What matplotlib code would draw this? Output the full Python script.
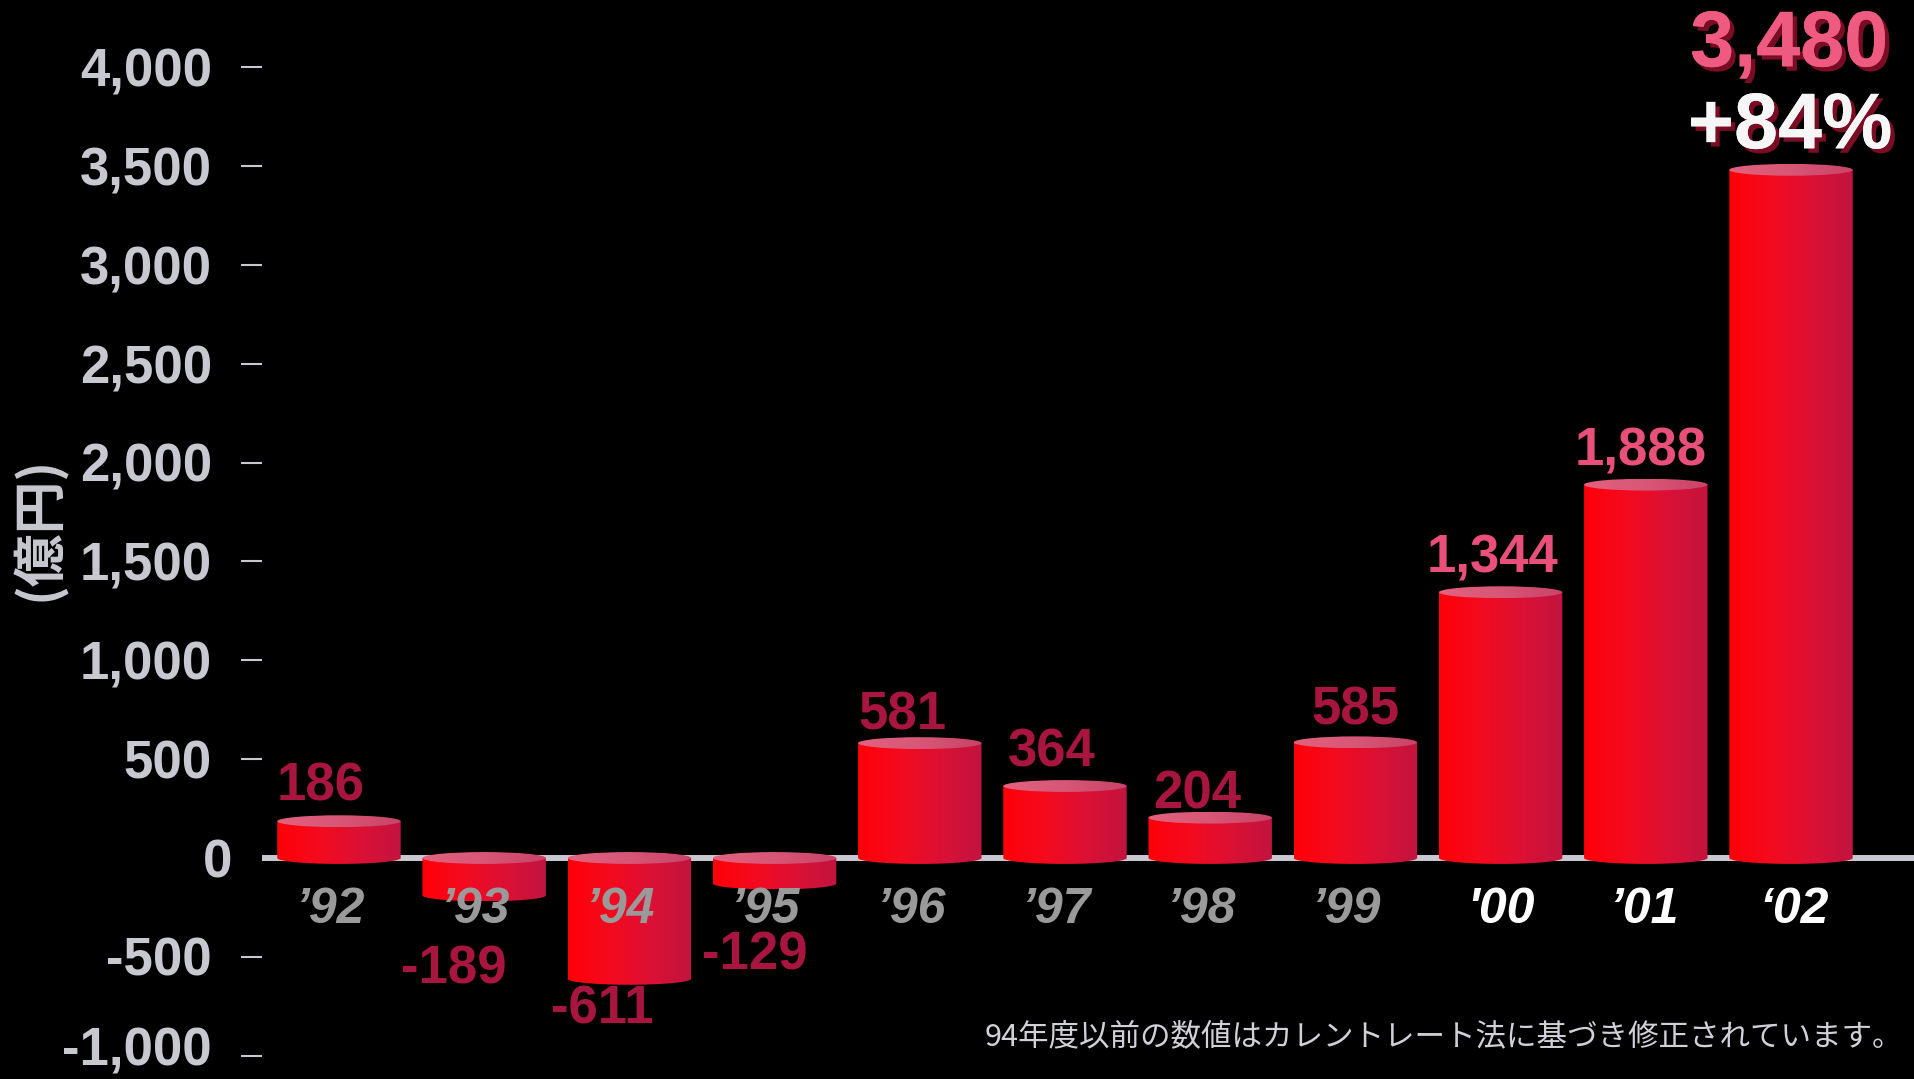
import numpy as np
import matplotlib
matplotlib.use("Agg")
import matplotlib.pyplot as plt
from matplotlib.path import Path
from matplotlib.patches import PathPatch, Ellipse
from matplotlib.colors import LinearSegmentedColormap
from matplotlib import patheffects as pe
from matplotlib.transforms import blended_transform_factory

# ---------------- data ----------------
years = ["’92", "’93", "’94", "’95", "’96", "’97", "’98", "’99", "'00", "’01", "‘02"]
values = [186, -189, -611, -129, 581, 364, 204, 585, 1344, 1888, 3480]
growth_label = "+84%"
yticks = [-1000, -500, 0, 500, 1000, 1500, 2000, 2500, 3000, 3500, 4000]
ylabel = "(億円)"
footnote = "94年度以前の数値はカレントレート法に基づき修正されています。"

# ---------------- styles ----------------
BG = "black"
AXIS_GRAY = "#c8c8d0"
DARK_LBL = "#a8163f"
PINK_LBL = "#e8507a"
BIG_PINK = "#ee5a80"
SHADOW = "#7a0c24"
label_colors = [DARK_LBL] * 8 + [PINK_LBL, PINK_LBL, BIG_PINK]
year_colors = ["#9a9a9a"] * 8 + ["white"] * 3
# label offsets in pixels (dx, dy) relative to bar centre / bar end
label_offsets = [(-18, 35), (-30, -74), (-27, -31), (-20, -72), (-17, 28), (-13, 34),
                 (-13, 23), (0, 32), (-8, 34), (-5, 33), (-2, 124)]
year_dx = [-9, -9, -9, -9, -9, -9, -9, -9, 0, -2, 3]
# per-tick vertical nudge of y tick labels (pixels)
ytick_dy = [10, 1, 0, 0, 0, 0, 0, 0, 0, 0, 0]

NUM_FONT = ["Liberation Sans", "DejaVu Sans"]
CJK_FONT = ["Noto Sans CJK JP", "DejaVu Sans"]

W, H = 1914, 1079
fig = plt.figure(figsize=(W / 100, H / 100), dpi=100, facecolor=BG)
ax = fig.add_axes([262 / W, 23.25 / H, 1652 / W, 988.75 / H])
ax.set_facecolor(BG)

x = np.arange(len(values))
bar_w = 0.85
ell_h = 60.0

body_cmap = LinearSegmentedColormap.from_list("body", ["#ff0008", "#f40a1e", "#dc1034", "#c2143f"])
top_cmap = LinearSegmentedColormap.from_list("top", ["#e2627f", "#d85676", "#c94468"])
grad = np.linspace(0, 1, 256).reshape(1, -1)

# baseline
ax.axhline(0, color=AXIS_GRAY, lw=4.3, solid_capstyle="round", zorder=1)


def cylinder(xc, v):
    top = max(v, 0)
    bot = min(v, 0)
    x0, x1 = xc - bar_w / 2, xc + bar_w / 2
    th = np.linspace(np.pi, 2 * np.pi, 80)
    bx = xc + (bar_w / 2) * np.cos(th)
    by = bot + (ell_h / 2) * np.sin(th)
    verts = [(x0, top)] + list(zip(bx, by)) + [(x1, top), (x0, top)]
    codes = [Path.MOVETO] + [Path.LINETO] * (len(verts) - 2) + [Path.CLOSEPOLY]
    body = PathPatch(Path(verts, codes), facecolor="none", edgecolor="none")
    ax.add_patch(body)
    im = ax.imshow(grad, extent=[x0, x1, bot - ell_h / 2, top + ell_h / 2], cmap=body_cmap,
                   aspect="auto", interpolation="bilinear", zorder=2)
    im.set_clip_path(body)
    cap = Ellipse((xc, top), bar_w, ell_h, facecolor="none", edgecolor="none")
    ax.add_patch(cap)
    im2 = ax.imshow(grad, extent=[x0, x1, top - ell_h / 2, top + ell_h / 2], cmap=top_cmap,
                    aspect="auto", interpolation="bilinear", zorder=3)
    im2.set_clip_path(cap)


for xi, v in zip(x, values):
    cylinder(xi, v)

shadow_fx = [pe.withSimplePatchShadow(offset=(3.2, -3.2), shadow_rgbFace=SHADOW, alpha=1.0), pe.Normal()]

# value labels
for i, (xi, v) in enumerate(zip(x, values)):
    dx, dy = label_offsets[i]
    txt = f"{v:,}"
    if i == len(values) - 1:
        ax.annotate(txt, (xi, v), xytext=(dx, dy), textcoords="offset pixels",
                    ha="center", va="center", fontsize=57, fontweight="bold",
                    family=NUM_FONT, color=BIG_PINK, zorder=6, path_effects=shadow_fx)
    else:
        ax.annotate(txt, (xi, v), xytext=(dx, dy), textcoords="offset pixels",
                    ha="center", va="center", fontsize=38, fontweight="bold",
                    family=NUM_FONT, color=label_colors[i], zorder=6)

# growth label
ax.annotate(growth_label, (x[-1], values[-1]), xytext=(-1, 42), textcoords="offset pixels",
            ha="center", va="center", fontsize=57, fontweight="bold", family=NUM_FONT,
            color="#f6f6f6", zorder=6, path_effects=shadow_fx)

# year labels
for i, (xi, yl) in enumerate(zip(x, years)):
    ax.annotate(yl, (xi, 0), xytext=(year_dx[i], -52), textcoords="offset pixels",
                ha="center", va="center", fontsize=36, fontweight="bold", fontstyle="italic",
                family=NUM_FONT, color=year_colors[i], zorder=7)

# axes
ax.set_xlim(-0.530, 10.847)
ax.set_ylim(-1000, 4000)
for s in ax.spines.values():
    s.set_visible(False)
ax.set_xticks([])
tick_marks = [t for t in yticks if t != 0]
ax.set_yticks(tick_marks)
ax.tick_params(axis="y", direction="out", length=15, width=1.5, color=AXIS_GRAY,
               labelleft=False)

# y tick labels drawn as text
tr = blended_transform_factory(ax.transAxes, ax.transData)
for t, ddy in zip(yticks, ytick_dy):
    xpos = -30 / 1652 if t == 0 else -50 / 1652
    ax.annotate(f"{t:,}", (xpos, t), xycoords=tr, xytext=(0, ddy), textcoords="offset pixels",
                ha="right", va="center_baseline", fontsize=38, fontweight="bold",
                family=NUM_FONT, color=AXIS_GRAY, annotation_clip=False)

# y label
fig.text(38 / W, 1 - 528 / H, ylabel, rotation=90, ha="center", va="center",
         fontsize=38, fontweight="bold", family=CJK_FONT, color=AXIS_GRAY)

# footnote
fig.text(1903 / W, 1 - 1038 / H, footnote, ha="right", va="center",
         fontsize=22, family=CJK_FONT, color="#d0d0d8")

fig.savefig("out.png", dpi=100, facecolor=BG)
